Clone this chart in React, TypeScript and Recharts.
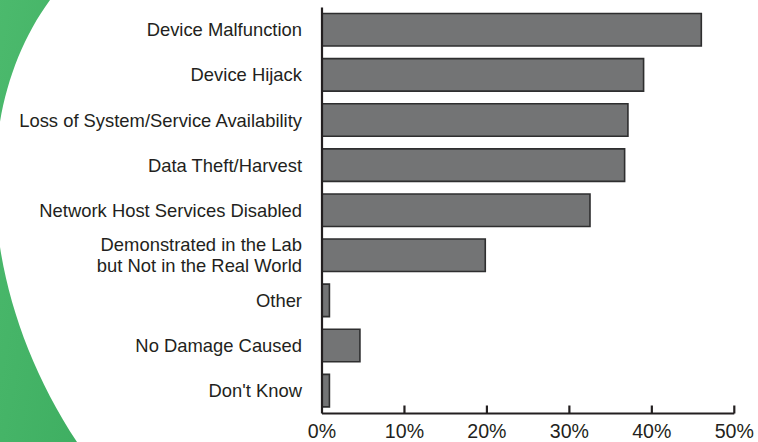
import React from 'react';
import { BarChart, Bar, XAxis, YAxis } from 'recharts';

const categories = [
  'Device Malfunction',
  'Device Hijack',
  'Loss of System/Service Availability',
  'Data Theft/Harvest',
  'Network Host Services Disabled',
  'Demonstrated in the Lab\nbut Not in the Real World',
  'Other',
  'No Damage Caused',
  "Don't Know",
];
const values = [46, 39, 37.1, 36.7, 32.5, 19.8, 0.9, 4.6, 0.9];
const xTicks = [0, 10, 20, 30, 40, 50];

const data = categories.map((name, i) => ({ name, value: values[i] }));

const FONT = '"Liberation Sans", Arial, Helvetica, sans-serif';
const TEXT = '#231f20';

const YTick = (props: any) => {
  const { x, y, payload } = props;
  const lines = String(payload.value).split('\n');
  const lh = 21;
  const start = -((lines.length - 1) * lh) / 2;
  return (
    <text x={x} y={y} textAnchor="end" fill={TEXT} fontSize={18.4} fontFamily={FONT}>
      {lines.map((l, i) => (
        <tspan key={i} x={x} dy={i === 0 ? start + 6.3 : lh}>
          {l}
        </tspan>
      ))}
    </text>
  );
};

const XTick = (props: any) => {
  const { x, y, payload } = props;
  return (
    <g>
      {payload.value !== 0 && (
        <line x1={x} x2={x} y1={y} y2={y - 8} stroke={TEXT} strokeWidth={2.2} />
      )}
      <text x={x} y={y + 24.5} textAnchor="middle" fill={TEXT} fontSize={19.6} fontFamily={FONT}>
        {payload.value + '%'}
      </text>
    </g>
  );
};

export default function App() {
  return (
    <div
      style={{
        position: 'absolute',
        left: 0,
        top: 0,
        width: 758,
        height: 442,
        background: '#ffffff',
        overflow: 'hidden',
      }}
    >
      <svg style={{ position: 'absolute', left: 0, top: 0 }} width={758} height={442}>
        <defs>
          <linearGradient id="grn" x1="0" y1="0" x2="1" y2="1">
            <stop offset="0%" stopColor="#4cba6d" />
            <stop offset="100%" stopColor="#3faf62" />
          </linearGradient>
        </defs>
        <path d="M-2,0 L50,0 C-32,112 -22,292 77,442 L-2,442 Z" fill="url(#grn)" />
      </svg>
      <div style={{ position: 'absolute', left: 0, top: 0 }}>
        <BarChart
          width={758}
          height={442}
          data={data}
          layout="vertical"
          margin={{ top: 7.5, right: 23.7, bottom: 0, left: 0 }}
          barSize={32.5}
        >
          <XAxis
            type="number"
            domain={[0, 50]}
            ticks={xTicks}
            interval={0}
            height={28.5}
            axisLine={{ stroke: TEXT, strokeWidth: 2.2 }}
            tickLine={false}
            tickSize={0}
            tickMargin={0}
            tick={<XTick />}
          />
          <YAxis
            type="category"
            dataKey="name"
            width={322}
            interval={0}
            axisLine={{ stroke: TEXT, strokeWidth: 2.2 }}
            tickLine={false}
            tickSize={0}
            tickMargin={20}
            tick={<YTick />}
          />
          <Bar
            dataKey="value"
            fill="#737475"
            stroke="#2e2e2f"
            strokeWidth={1.6}
            isAnimationActive={false}
          />
        </BarChart>
      </div>
    </div>
  );
}
